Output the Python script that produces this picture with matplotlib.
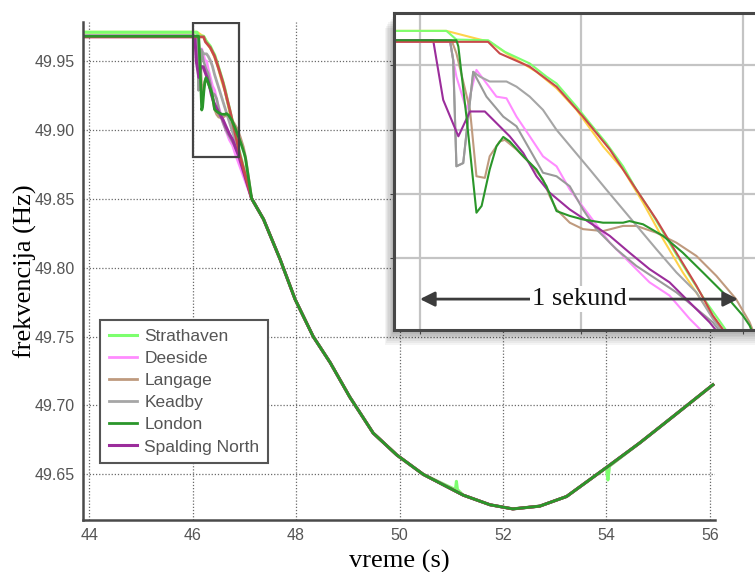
import matplotlib
matplotlib.use("Agg")
from matplotlib import pyplot as plt
from matplotlib.patches import Rectangle

# common trace after the disturbance (all units on top of each other)
tail_t = [47.14, 47.37, 47.69, 47.98, 48.33, 48.66, 49.04, 49.49, 49.95, 50.46,
          51.23, 51.75, 52.19, 52.71, 53.23, 54.00, 54.65, 55.29, 56.06]
tail_v = [49.850, 49.835, 49.806, 49.777, 49.750, 49.731, 49.706, 49.680, 49.664, 49.650,
          49.635, 49.628, 49.625, 49.627, 49.634, 49.655, 49.673, 49.692, 49.715]

# Strathaven has a couple of glitches on the tail
strat_tail_t = [47.14, 47.37, 47.69, 47.98, 48.33, 48.66, 49.04, 49.49, 49.95, 50.46,
                51.08, 51.10, 51.12, 51.23, 51.75, 52.19, 52.71, 53.23, 54.00, 54.03, 54.06,
                54.65, 55.29, 56.06]
strat_tail_v = [49.850, 49.835, 49.806, 49.777, 49.750, 49.731, 49.706, 49.680, 49.664, 49.650,
                49.639, 49.645, 49.639, 49.635, 49.628, 49.625, 49.627, 49.634, 49.655, 49.646, 49.656,
                49.673, 49.692, 49.715]

# first second after the event, per unit
strat_t = [43.9, 45.907, 46.082, 46.113, 46.211, 46.263, 46.340, 46.392, 46.423, 46.485, 46.526,
           46.577, 46.629, 46.670, 46.711, 46.784, 46.835, 46.887, 46.938]
strat_v = [49.9706, 49.9706, 49.9706, 49.9679, 49.9677, 49.9641, 49.9605, 49.9564, 49.9543, 49.9471,
           49.9420, 49.9358, 49.9286, 49.9214, 49.9152, 49.9029, 49.8946, 49.8864, 49.8792]

dee_t = [43.9, 45.907, 46.093, 46.113, 46.144, 46.175, 46.237, 46.268, 46.299, 46.340, 46.381,
         46.423, 46.464, 46.526, 46.588, 46.649, 46.711, 46.773, 46.835, 46.866]
dee_v = [49.9672, 49.9672, 49.9672, 49.9564, 49.9461, 49.9585, 49.9502, 49.9497, 49.9440, 49.9379,
         49.9317, 49.9286, 49.9214, 49.9132, 49.9049, 49.8988, 49.8926, 49.8885, 49.8813, 49.8782]

lang_t = [43.9, 45.907, 46.098, 46.113, 46.155, 46.175, 46.201, 46.216, 46.247, 46.263, 46.299,
          46.340, 46.381, 46.402, 46.423, 46.464, 46.505, 46.567, 46.629, 46.670, 46.732,
          46.794, 46.856, 46.918, 46.979, 47.021]
lang_v = [49.9677, 49.9677, 49.9677, 49.9636, 49.9461, 49.9255, 49.9250, 49.9317, 49.9363, 49.9368,
          49.9338, 49.9296, 49.9245, 49.9193, 49.9152, 49.9111, 49.9091, 49.9085, 49.9101, 49.9101,
          49.9080, 49.9049, 49.9008, 49.8946, 49.8874, 49.8802]

kead_t = [43.9, 45.907, 46.093, 46.103, 46.113, 46.134, 46.165, 46.186, 46.216, 46.268, 46.299,
          46.340, 46.381, 46.423, 46.474, 46.526, 46.577, 46.629, 46.680, 46.732, 46.794,
          46.856, 46.907]
kead_v = [49.9677, 49.9677, 49.9677, 49.9615, 49.9286, 49.9296, 49.9579, 49.9564, 49.9549, 49.9549,
          49.9533, 49.9502, 49.9461, 49.9399, 49.9338, 49.9276, 49.9214, 49.9152, 49.9091, 49.9029,
          49.8957, 49.8895, 49.8813]

lon_t = [43.9, 45.907, 46.113, 46.119, 46.144, 46.175, 46.191, 46.216, 46.237, 46.258, 46.278,
         46.320, 46.361, 46.392, 46.423, 46.464, 46.505, 46.567, 46.629, 46.649, 46.691,
         46.753, 46.814, 46.876, 46.938, 47.000, 47.021]
lon_v = [49.9677, 49.9677, 49.9677, 49.9657, 49.9440, 49.9142, 49.9163, 49.9276, 49.9348, 49.9377,
         49.9363, 49.9317, 49.9276, 49.9224, 49.9147, 49.9132, 49.9121, 49.9111, 49.9111, 49.9116,
         49.9106, 49.9070, 49.9018, 49.8957, 49.8895, 49.8823, 49.8792]

spal_t = [43.9, 45.907, 46.041, 46.072, 46.119, 46.155, 46.201, 46.237, 46.278, 46.320, 46.361,
          46.402, 46.464, 46.526, 46.588, 46.649, 46.711, 46.773, 46.835, 46.897]
spal_v = [49.9677, 49.9677, 49.9677, 49.9492, 49.9379, 49.9456, 49.9456, 49.9420, 49.9379, 49.9327,
          49.9255, 49.9204, 49.9152, 49.9111, 49.9070, 49.9018, 49.8967, 49.8926, 49.8864, 49.8802]

# unlabelled units that also show up in the plot
kead2_t = [43.9, 45.907, 46.093, 46.103, 46.113, 46.134, 46.165, 46.206, 46.258, 46.299, 46.340,
           46.381, 46.423, 46.464, 46.505, 46.546, 46.608, 46.670, 46.732, 46.794, 46.856, 46.907]
kead2_v = [49.9677, 49.9677, 49.9677, 49.9615, 49.9286, 49.9296, 49.9579, 49.9502, 49.9440, 49.9410,
           49.9338, 49.9266, 49.9255, 49.9224, 49.9152, 49.9091, 49.9029, 49.8977, 49.8936, 49.8895,
           49.8844, 49.8802]

red_t = [43.9, 45.907, 46.211, 46.247, 46.340, 46.423, 46.505, 46.588, 46.670, 46.732, 46.794,
         46.856, 46.907]
red_v = [49.9672, 49.9672, 49.9672, 49.9636, 49.9595, 49.9533, 49.9440, 49.9338, 49.9214, 49.9121,
         49.9018, 49.8916, 49.8823]

yel_t = [43.9, 45.907, 46.082, 46.113, 46.175, 46.216, 46.268, 46.361, 46.423, 46.485, 46.567,
         46.629, 46.691, 46.753, 46.814, 46.876, 46.928]
yel_v = [49.9706, 49.9706, 49.9706, 49.9698, 49.9682, 49.9672, 49.9636, 49.9579, 49.9528, 49.9461,
         49.9348, 49.9276, 49.9173, 49.9060, 49.8957, 49.8864, 49.8792]

x_ticks = [44, 46, 48, 50, 52, 54, 56]
y_ticks = [49.65, 49.70, 49.75, 49.80, 49.85, 49.90, 49.95]

# (label, t, v, tail_t, tail_v, colour, lw) in drawing order
series = [
    (None, yel_t, yel_v, tail_t, tail_v, "#ffd24a", 1.6),
    ("Strathaven", strat_t, strat_v, strat_tail_t, strat_tail_v, "#7dff6e", 1.8),
    ("Deeside", dee_t, dee_v, tail_t, tail_v, "#ff8cff", 1.6),
    ("Langage", lang_t, lang_v, tail_t, tail_v, "#bf9a7e", 1.6),
    ("Keadby", kead_t, kead_v, tail_t, tail_v, "#a6a6a6", 1.6),
    (None, kead2_t, kead2_v, tail_t, tail_v, "#9a9a9a", 1.4),
    ("Spalding North", spal_t, spal_v, tail_t, tail_v, "#9b2d9b", 1.8),
    (None, red_t, red_v, tail_t, tail_v, "#c84a4a", 1.6),
    ("London", lon_t, lon_v, tail_t, tail_v, "#2a962a", 1.6),
]
legend_order = ["Strathaven", "Deeside", "Langage", "Keadby", "London", "Spalding North"]

fig = plt.figure(figsize=(7.55, 5.72), dpi=100)
ax = fig.add_axes([0.110, 0.091, 0.837, 0.8705])
ax.set_zorder(0)

handles = {}
for label, t, v, tt, tv, col, lw in series:
    ln, = ax.plot(t + tt, v + tv, color=col, lw=lw + 0.4, solid_joinstyle="round")
    if label:
        handles[label] = ln

ax.set_xlim(43.88, 56.1)
ax.set_ylim(49.617, 49.978)
ax.set_xticks(x_ticks)
ax.set_yticks(y_ticks)
ax.set_yticklabels([f"{y:.2f}" for y in y_ticks])
ax.tick_params(length=0, pad=6, labelsize=11.5, labelcolor="#555555")
for lab in ax.get_xticklabels() + ax.get_yticklabels():
    lab.set_family("Liberation Sans")
ax.grid(True, color="#e4e4e4", lw=2.6, ls="-")
ax.grid(True, color="#6a6a6a", lw=0.9, ls=(0, (1, 1.5)))
ax.set_axisbelow(True)
for s in ["top", "right"]:
    ax.spines[s].set_visible(False)
for s in ["left", "bottom"]:
    ax.spines[s].set_color("#4a4a4a")
    ax.spines[s].set_linewidth(1.8)

ax.set_xlabel("vreme (s)", family="Liberation Serif", fontsize=19, labelpad=5)
ax.set_ylabel("frekvencija (Hz)", family="Liberation Serif", fontsize=19, labelpad=-2)

ax.add_patch(Rectangle((46.0, 49.88), 0.9, 0.097, fill=False, ec="#444444", lw=1.6, zorder=5))

leg = ax.legend([handles[k] for k in legend_order], legend_order, loc="lower left",
                bbox_to_anchor=(0.027, 0.114), borderaxespad=0, fancybox=False,
                framealpha=1, edgecolor="#555555", prop={"family": "Liberation Sans", "size": 12.5},
                handlelength=1.6, handletextpad=0.45, labelspacing=0.4, borderpad=0.5)
leg.get_frame().set_linewidth(1.5)
for txt in leg.get_texts():
    txt.set_color("#555555")

# zoomed inset, with a soft shadow below it
inset_box = [0.522, 0.423, 0.488, 0.554]
for i in range(8):
    d = 0.0025 * (i + 1)
    fig.patches.append(Rectangle((inset_box[0] - d * 0.6, inset_box[1] - d * 1.3),
                                 inset_box[2] + 0.02, inset_box[3], transform=fig.transFigure,
                                 color="black", alpha=0.045, lw=0, zorder=1))

ins = fig.add_axes(inset_box)
ins.set_zorder(2)
ins.set_facecolor("white")
for label, t, v, tt, tv, col, lw in series:
    ins.plot(t + tt, v + tv, color=col, lw=1.5)
ins.set_xlim(45.92, 47.061)
ins.set_ylim(49.8778, 49.9761)
ins.set_xticks([46.0, 46.5, 47.0])
ins.set_yticks([49.90, 49.92, 49.94, 49.96])
ins.tick_params(labelleft=False, labelbottom=False, length=3, color="#444444")
ins.grid(True, color="#c4c4c4", lw=1.6)
ins.set_axisbelow(True)
for s in ins.spines.values():
    s.set_color("#474747")
    s.set_linewidth(2.2)

ins.annotate("", xy=(46.0, 49.8874), xytext=(46.985, 49.8874),
             arrowprops=dict(arrowstyle="<|-|>", color="#3c3c3c", lw=2, mutation_scale=22,
                             shrinkA=0, shrinkB=0))
ins.text(46.495, 49.8874, "1 sekund", family="Liberation Serif", fontsize=19, ha="center",
         va="center", color="#111111", bbox=dict(fc="white", ec="none", pad=1.5))

fig.savefig("out.png", dpi=100)
